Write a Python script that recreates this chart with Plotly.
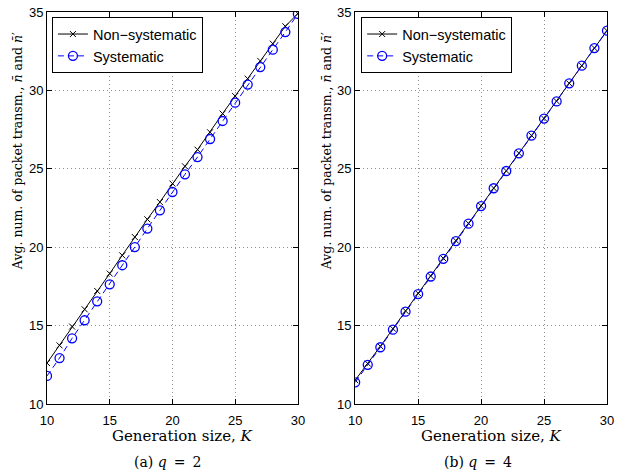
import plotly.graph_objects as go

K = list(range(10, 31))
# q = 2
nonsys_q2 = [12.61, 13.74, 14.94, 16.04, 17.21, 18.32, 19.48, 20.65, 21.78, 22.88, 24.06,
             25.16, 26.22, 27.33, 28.52, 29.64, 30.75, 31.88, 32.98, 34.09, 34.9]
sys_q2 = [11.79, 12.93, 14.19, 15.34, 16.55, 17.63, 18.85, 20.01, 21.19, 22.35, 23.52,
          24.65, 25.75, 26.9, 28.05, 29.22, 30.37, 31.49, 32.6, 33.72, 34.88]
# q = 4
nonsys_q4 = [11.52, 12.58, 13.68, 14.8, 15.94, 17.06, 18.16, 19.29, 20.42, 21.52, 22.64,
             23.77, 24.87, 26.0, 27.13, 28.21, 29.31, 30.45, 31.58, 32.7, 33.81]
sys_q4 = [11.38, 12.5, 13.62, 14.74, 15.89, 17.01, 18.13, 19.26, 20.39, 21.5, 22.62,
          23.76, 24.86, 25.99, 27.12, 28.2, 29.3, 30.45, 31.58, 32.7, 33.81]

x_ticks = [10, 15, 20, 25, 30]
y_ticks = [10, 15, 20, 25, 30, 35]

names = ["Non\u2212systematic", "Systematic"]

fig = go.Figure()

def add_pair(nonsys, sysv, xa, ya, leg):
    fig.add_trace(go.Scatter(
        x=K, y=nonsys, mode="lines+markers", name=names[0],
        line=dict(color="black", width=1),
        marker=dict(symbol="x-thin", size=6, line=dict(color="black", width=1)),
        xaxis=xa, yaxis=ya, legend=leg))
    fig.add_trace(go.Scatter(
        x=K, y=sysv, mode="lines+markers", name=names[1],
        line=dict(color="#0000ff", width=1, dash="6px,4px"),
        marker=dict(symbol="circle-open", size=9, color="#0000ff",
                    line=dict(color="#0000ff", width=1.3)),
        xaxis=xa, yaxis=ya, legend=leg))

add_pair(nonsys_q2, sys_q2, "x", "y", "legend")
add_pair(nonsys_q4, sys_q4, "x2", "y2", "legend2")

axis_common = dict(
    showline=True, linecolor="black", linewidth=1, mirror="ticks",
    ticks="inside", ticklen=5, tickcolor="black",
    showgrid=True, gridcolor="#909090", griddash="1px,3px", gridwidth=1,
    zeroline=False,
    tickfont=dict(family="Liberation Sans, Arial", size=13, color="black"),
)

legend_style = dict(xanchor="left", yanchor="top",
                    bordercolor="black", borderwidth=1, bgcolor="white",
                    font=dict(family="Liberation Sans, Arial", size=14.5, color="black"),
                    tracegroupgap=0, itemwidth=30)

fig.update_layout(
    width=619, height=472,
    margin=dict(l=47, r=5, t=11, b=68),
    paper_bgcolor="white", plot_bgcolor="white",
    xaxis=dict(domain=[0, 0.448], range=[10, 30], tickvals=x_ticks, anchor="y",
               ticklabelstandoff=4, **axis_common),
    yaxis=dict(range=[10, 35], tickvals=y_ticks, anchor="x", **axis_common),
    xaxis2=dict(domain=[0.5503, 1], range=[10, 30], tickvals=x_ticks, anchor="y2",
                ticklabelstandoff=4, **axis_common),
    yaxis2=dict(range=[10, 35], tickvals=y_ticks, anchor="x2", **axis_common),
    legend=dict(x=0.0088, y=0.987, **legend_style),
    legend2=dict(x=0.561, y=0.987, **legend_style),
    showlegend=True,
)

serif = "DejaVu Serif, Liberation Serif, serif"
ylab = "Avg. num. of packet transm., <i>n\u0304</i> and <i>n\u0304</i>\u2032"
for xc in (-0.0529, 0.499):
    fig.add_annotation(text=ylab, xref="paper", yref="paper", x=xc, y=0.646,
                       textangle=-90, showarrow=False,
                       font=dict(family=serif, size=12.5, color="black"),
                       xanchor="center", yanchor="middle")
for xc in (0.2416, 0.794):
    fig.add_annotation(text="Generation size, <i>K</i>", xref="paper", yref="paper",
                       x=xc, y=-0.082, showarrow=False,
                       font=dict(family=serif, size=15, color="black"),
                       xanchor="center", yanchor="middle")
for xc, t in ((0.215, "(a) <i>q</i>\u2002=\u20022"), (0.770, "(b) <i>q</i>\u2002=\u20024")):
    fig.add_annotation(text=t, xref="paper", yref="paper", x=xc, y=-0.148,
                       showarrow=False,
                       font=dict(family=serif, size=14, color="black"),
                       xanchor="center", yanchor="middle")

fig.write_html("out.html", config={"displayModeBar": False},
               post_script="document.body.style.margin='0';document.body.style.overflow='hidden';")
